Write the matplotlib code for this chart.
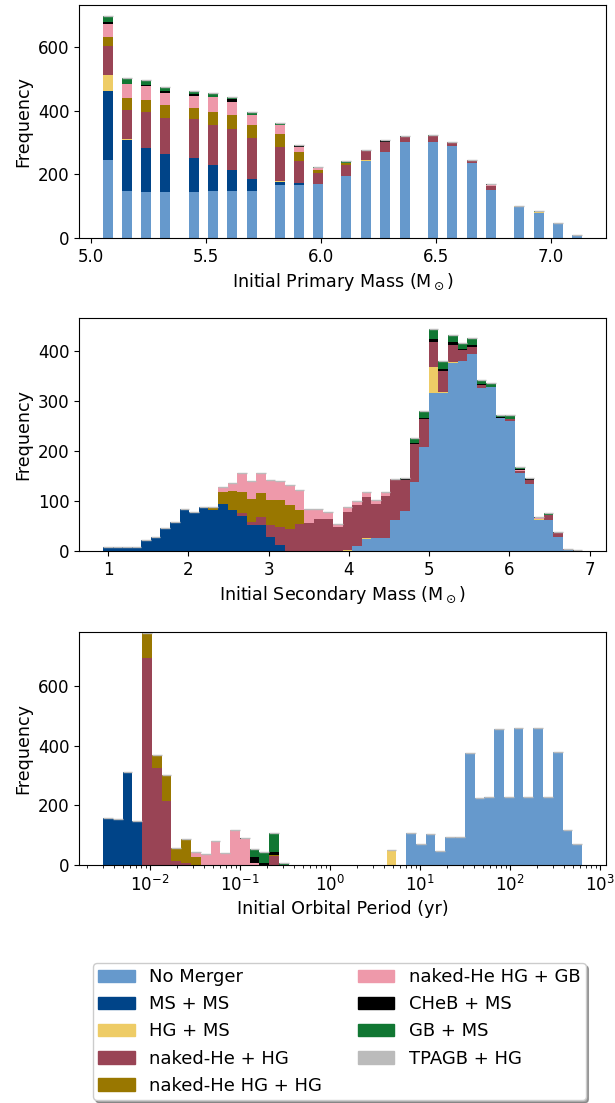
import numpy as np
import matplotlib
matplotlib.use('Agg')
import matplotlib.pyplot as plt
from matplotlib.patches import Patch

plt.rcParams['font.size'] = 12
plt.rcParams['axes.labelsize'] = 12.6

labels = ['No Merger', 'MS + MS', 'HG + MS', 'naked-He + HG', 'naked-He HG + HG',
          'naked-He HG + GB', 'CHeB + MS', 'GB + MS', 'TPAGB + HG']
colors = ['#6699CC', '#004488', '#EECC66', '#994455', '#997700',
          '#EE99AA', '#000000', '#117733', '#BBBBBB']

# --- primary mass (bar centres) ---
m1 = [5.074, 5.157, 5.239, 5.322, 5.448, 5.531, 5.614, 5.701, 5.823, 5.906, 5.988, 6.111,
      6.195, 6.278, 6.365, 6.487, 6.570, 6.657, 6.740, 6.862, 6.949, 7.032, 7.115]
m1_nm    = [246, 148, 145, 145, 145, 148, 148, 148, 167, 167, 171, 196, 243, 272, 303, 303, 290, 237, 152, 98, 79, 47, 9]
m1_msms  = [215, 161, 139, 120, 108, 83, 67, 38, 10, 7, 0, 0, 0, 0, 0, 0, 0, 0, 0, 0, 0, 0, 0]
m1_hgms  = [51, 4, 0, 0, 0, 0, 0, 0, 3, 0, 0, 0, 3, 0, 0, 0, 0, 0, 0, 3, 2, 0, 0]
m1_nhe   = [91, 91, 111, 114, 120, 126, 129, 130, 107, 69, 34, 34, 32, 31, 16, 19, 13, 9, 12, 0, 0, 0, 0]
m1_nhehg = [28, 35, 38, 38, 37, 41, 44, 41, 41, 29, 10, 7, 0, 0, 0, 0, 0, 0, 0, 0, 2, 0, 0]
m1_nhegb = [42, 47, 44, 38, 38, 47, 41, 31, 29, 15, 6, 0, 0, 0, 0, 0, 0, 0, 2, 0, 0, 0, 0]
m1_cheb  = [6, 0, 3, 6, 4, 0, 7, 0, 0, 3, 0, 0, 0, 6, 3, 0, 0, 0, 3, 0, 0, 0, 0]
m1_gb    = [19, 16, 16, 13, 9, 10, 9, 10, 6, 4, 3, 6, 0, 0, 0, 3, 0, 0, 0, 0, 3, 0, 0]
m1_tpagb = [0] * 23

# --- secondary mass (50 bins) ---
m2_edges = np.linspace(0.934, 6.905, 51)
m2_nm    = [0, 0, 0, 0, 0, 0, 0, 0, 0, 0, 0, 0, 0, 0, 0, 0, 0, 0, 0, 0, 0, 0, 0, 0, 0,
            0, 9, 23, 26, 26, 62, 80, 138, 209, 317, 317, 376, 380, 394, 326, 328, 267, 261, 156, 134, 62, 62, 28, 2, 0]
m2_msms  = [8, 8, 8, 8, 21, 28, 46, 58, 83, 77, 88, 82, 94, 82, 70, 52, 52, 28, 11, 0, 0, 0, 0, 0, 0,
            0, 0, 0, 0, 0, 0, 0, 0, 0, 0, 0, 0, 0, 0, 0, 0, 0, 0, 0, 0, 0, 0, 0, 0, 0]
m2_hgms  = [0, 0, 0, 0, 0, 0, 0, 0, 0, 0, 0, 0, 0, 0, 0, 0, 0, 0, 0, 0, 0, 0, 0, 0, 0,
            2, 0, 2, 0, 0, 0, 0, 0, 0, 51, 2, 2, 0, 0, 0, 0, 0, 0, 0, 0, 1, 0, 0, 0, 0]
m2_nhe   = [0, 0, 0, 0, 0, 0, 0, 0, 0, 0, 0, 0, 0, 0, 6, 6, 16, 24, 37, 44, 54, 56, 64, 64, 48,
            76, 83, 83, 68, 84, 82, 62, 76, 56, 50, 41, 34, 22, 14, 6, 0, 0, 4, 4, 8, 0, 10, 8, 1, 0]
m2_nhehg = [0, 0, 0, 0, 0, 0, 0, 0, 0, 0, 0, 5, 24, 38, 42, 46, 48, 50, 54, 48, 28, 0, 0, 0, 0,
            0, 0, 0, 0, 0, 0, 0, 0, 0, 0, 0, 0, 0, 0, 0, 0, 0, 0, 0, 0, 0, 0, 0, 0, 0]
m2_nhegb = [0, 0, 0, 0, 0, 0, 0, 0, 0, 0, 0, 0, 10, 16, 38, 36, 40, 40, 38, 40, 39, 28, 20, 14, 6,
            10, 8, 10, 8, 8, 0, 0, 1, 0, 0, 0, 0, 0, 0, 0, 0, 0, 0, 2, 0, 2, 0, 0, 0, 0]
m2_cheb  = [0, 0, 0, 0, 0, 0, 0, 0, 0, 0, 0, 0, 0, 0, 0, 0, 0, 0, 0, 0, 0, 0, 0, 0, 0,
            0, 0, 0, 0, 0, 0, 2, 1, 2, 6, 4, 6, 2, 4, 2, 0, 2, 0, 2, 2, 3, 0, 2, 0, 2]
m2_gb    = [0, 0, 0, 0, 0, 0, 0, 0, 0, 0, 0, 0, 0, 0, 0, 0, 0, 0, 0, 0, 0, 0, 0, 0, 0,
            0, 0, 0, 0, 0, 0, 2, 11, 14, 20, 16, 14, 12, 14, 8, 8, 4, 8, 4, 2, 0, 4, 0, 0, 0]
m2_tpagb = [0] * 50

# --- orbital period (49 log bins) ---
p_edges = 10 ** np.linspace(-2.52, 2.80, 50)
p_nm    = [0] * 31 + [106, 69, 103, 46, 93, 93, 375, 224, 227, 456, 227, 459, 227, 459, 227, 379, 117, 69]
p_msms  = [158, 153, 311, 147] + [0] * 45
p_hgms  = [0] * 29 + [49] + [0] * 19
p_nhe   = [0, 0, 0, 0, 694, 324, 213, 12, 6, 0, 0, 0, 0, 0, 0, 0, 0, 31, 0] + [0] * 30
p_nhehg = [0, 0, 0, 0, 85, 45, 88, 44, 80, 28, 0, 0, 0, 0, 0, 0, 0, 3, 0] + [0] * 30
p_nhegb = [0, 0, 0, 0, 0, 0, 0, 0, 0, 17, 38, 81, 41, 118, 86, 6, 0, 0, 0] + [0] * 30
p_cheb  = [0, 0, 0, 0, 0, 0, 0, 0, 0, 0, 0, 0, 0, 0, 4, 20, 5, 11, 0] + [0] * 30
p_gb    = [0, 0, 0, 0, 0, 0, 0, 0, 0, 0, 0, 0, 0, 0, 0, 27, 38, 63, 7] + [0] * 30
p_tpagb = [0] * 49

m1_sets = [m1_nm, m1_msms, m1_hgms, m1_nhe, m1_nhehg, m1_nhegb, m1_cheb, m1_gb, m1_tpagb]
m2_sets = [m2_nm, m2_msms, m2_hgms, m2_nhe, m2_nhehg, m2_nhegb, m2_cheb, m2_gb, m2_tpagb]
p_sets = [p_nm, p_msms, p_hgms, p_nhe, p_nhehg, p_nhegb, p_cheb, p_gb, p_tpagb]


def stacked_bars(ax, x, sets, width):
    x = np.asarray(x)
    cum = np.zeros(len(x))
    for vals, c in zip(sets[:-1], colors[:-1]):
        vals = np.asarray(vals, float)
        ax.bar(x, vals, width=width, bottom=cum, color=c, linewidth=0)
        cum += vals
    top = cum + np.asarray(sets[-1], float)
    ax.hlines(top, x - width / 2, x + width / 2, colors=colors[-1], lw=1)


def stacked_steps(ax, edges, sets):
    cum = np.zeros(len(edges) - 1)
    for vals, c in zip(sets[:-1], colors[:-1]):
        vals = np.asarray(vals, float)
        ax.stairs(cum + vals, edges, baseline=cum.copy(), fill=True, color=c, lw=0)
        cum += vals
    top = cum + np.asarray(sets[-1], float)
    ok = top > 0
    ax.hlines(top[ok], edges[:-1][ok], edges[1:][ok], colors=colors[-1], lw=1)


fig = plt.figure(figsize=(6.15, 11.03), dpi=100)
ax1 = fig.add_axes([0.1285, 0.7842, 0.857, 0.2112])
ax2 = fig.add_axes([0.1285, 0.5005, 0.857, 0.2112])
ax3 = fig.add_axes([0.1285, 0.2158, 0.857, 0.2112])

stacked_bars(ax1, m1, m1_sets, 0.0435)
ax1.set_xlabel(r'Initial Primary Mass (M$_\odot$)')
ax1.set_ylabel('Frequency')

stacked_steps(ax2, m2_edges, m2_sets)
ax2.set_xlabel(r'Initial Secondary Mass (M$_\odot$)')
ax2.set_ylabel('Frequency')
ax2.set_xlim(0.636, 7.204)

stacked_steps(ax3, p_edges, p_sets)
ax3.set_xscale('log')
ax3.set_xlim(10 ** -2.786, 10 ** 3.066)
ax3.set_ylim(0, 781)
ax3.set_xlabel('Initial Orbital Period (yr)')
ax3.set_ylabel('Frequency')

handles = [Patch(color=c, label=l) for c, l in zip(colors, labels)]
fig.legend(handles=handles, loc='upper left', bbox_to_anchor=(93 / 615, 1 - 963 / 1103),
           ncol=2, shadow=True, borderaxespad=0, fontsize=13, labelspacing=0.5,
           borderpad=0.3)

fig.savefig('out.png', dpi=100)
